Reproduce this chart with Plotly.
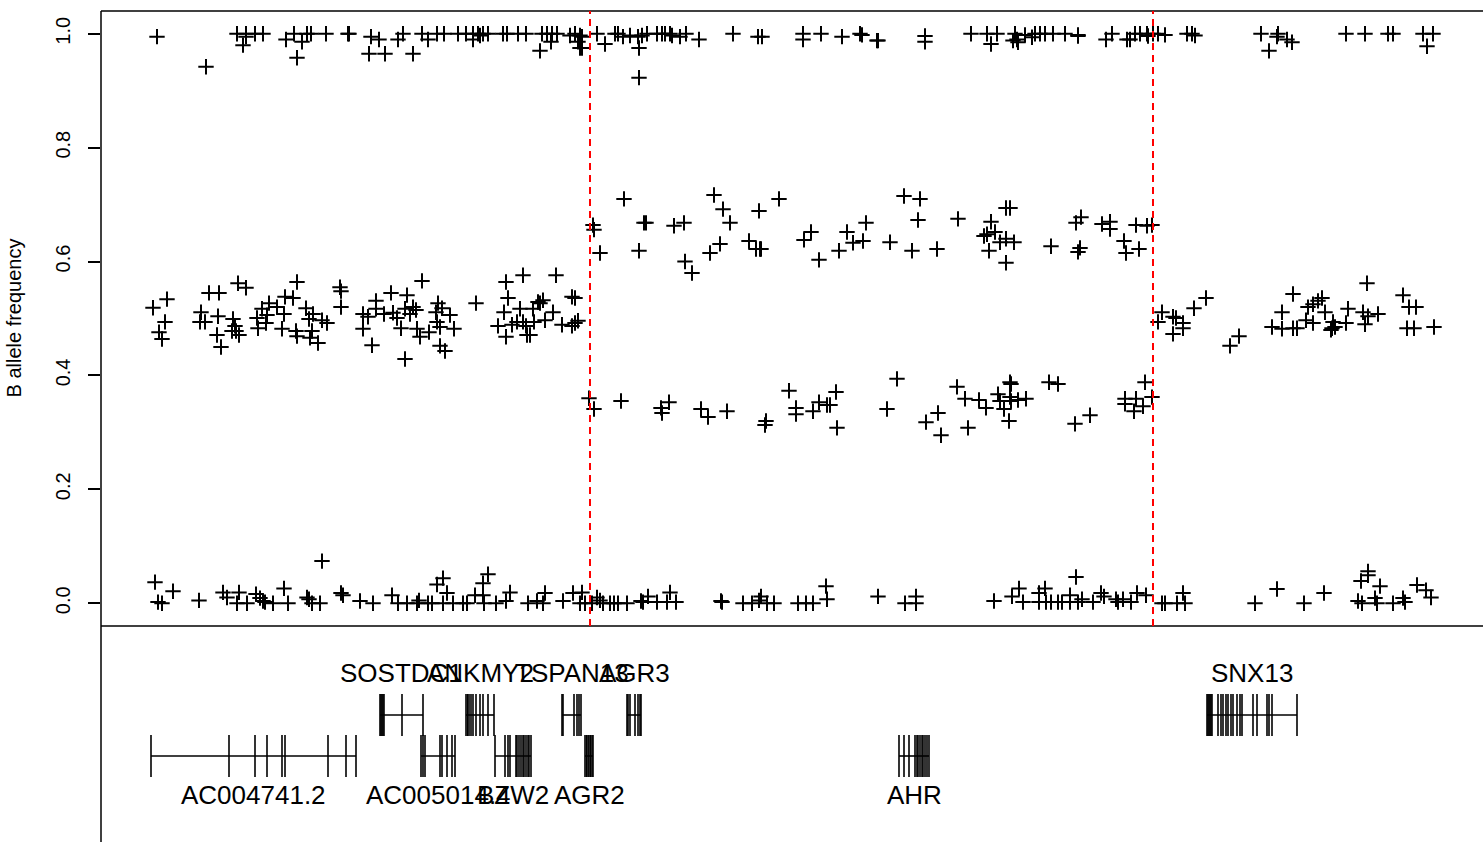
import plotly.graph_objects as go

# ---------------- data (positions in plot units along the region) ----------------
# B allele frequency, homozygous-B band (~1.0)
pos_top = [157, 206, 237, 246, 255, 263, 246, 243, 286, 294, 302, 297, 307, 311, 326, 348, 349,
           371, 379, 369, 385, 398, 403, 413, 422, 428, 437, 444, 458, 466, 473, 478, 483, 488,
           473, 480, 503, 507, 518, 526, 542, 547, 552, 557, 551, 540, 570, 575, 580, 578, 580, 597,
           582, 582, 605, 615, 618, 623, 630, 638, 642, 639, 639, 647, 657, 662, 665, 670, 672,
           680, 686, 699, 733, 758, 762, 803, 803, 821, 842, 860, 862, 877, 878, 925, 925, 971,
           987, 991, 997, 1015, 1017, 1018, 1013, 1025, 1032, 1035, 1040, 1045, 1053, 1065, 1078,
           1078, 1106, 1112, 1127, 1130, 1135, 1140, 1147, 1148, 1153, 1158, 1165, 1187, 1192,
           1195, 1261, 1278, 1277, 1269, 1287, 1292, 1346, 1365, 1388, 1393, 1423, 1433, 1427]
baf_top = [0.995, 0.942, 1, 1, 1, 1, 0.995, 0.98, 0.99, 1, 0.986, 0.958, 1, 1, 1, 1, 1,
           0.995, 0.99, 0.965, 0.965, 0.99, 1, 0.965, 1, 0.99, 1, 1, 1, 1, 1, 1, 1, 1,
           0.99, 0.997, 1, 1, 1, 1, 1, 1, 1, 1, 0.986, 0.97, 0.997, 1, 0.997, 0.986, 0.975, 1,
           0.995, 0.975, 0.982, 1, 1, 0.995, 0.997, 0.995, 0.997, 0.975, 0.923, 1, 1, 1, 1, 1, 0.997,
           0.995, 1, 0.99, 1, 0.995, 0.995, 1, 0.99, 1, 0.995, 1, 0.998, 0.988, 0.988, 0.996, 0.986, 1,
           1, 0.982, 1, 1, 0.99, 0.985, 0.988, 0.998, 0.994, 1, 1, 1, 1, 1, 0.998,
           0.996, 0.99, 1, 0.99, 0.99, 1, 1, 1, 0.996, 1, 1, 0.998, 1, 1,
           0.997, 1, 1, 0.995, 0.97, 0.99, 0.985, 1, 1, 1, 1, 1, 1, 0.978]

# heterozygous band (~0.5), left region
pos_het_left = [153, 167, 165, 159, 162, 209, 219, 238, 246, 201, 200, 205, 218, 217, 221, 233, 235,
                236, 239, 232, 297, 285, 293, 269, 277, 262, 267, 257, 266, 258, 284, 282, 306, 313,
                309, 322, 327, 296, 297, 312, 310, 318, 340, 341, 341, 363, 368, 363, 372, 376, 376,
                384, 391, 393, 397, 401, 405, 407, 413, 416, 405, 410, 422, 417, 420, 429, 438, 442,
                436, 437, 440, 450, 454, 440, 445, 476, 506, 523, 556, 508, 504, 520, 533, 553, 545,
                534, 538, 543, 540, 517, 523, 526, 512, 498, 506, 527, 530, 572, 575, 562, 572, 575, 578]
baf_het_left = [0.519, 0.534, 0.494, 0.476, 0.464, 0.545, 0.545, 0.562, 0.554, 0.511, 0.494, 0.494,
                0.504, 0.471, 0.45, 0.499, 0.487, 0.478, 0.471, 0.478, 0.564, 0.538, 0.536, 0.527,
                0.52, 0.517, 0.506, 0.501, 0.492, 0.483, 0.508, 0.482, 0.518, 0.508, 0.499, 0.497,
                0.492, 0.478, 0.469, 0.478, 0.466, 0.457, 0.555, 0.548, 0.52, 0.508, 0.503, 0.482,
                0.453, 0.531, 0.517, 0.508, 0.545, 0.51, 0.501, 0.483, 0.429, 0.541, 0.52, 0.515,
                0.517, 0.508, 0.566, 0.482, 0.468, 0.476, 0.527, 0.518, 0.511, 0.494, 0.485, 0.506,
                0.482, 0.452, 0.443, 0.527, 0.564, 0.576, 0.576, 0.536, 0.511, 0.517, 0.517, 0.511,
                0.497, 0.494, 0.529, 0.532, 0.527, 0.494, 0.494, 0.487, 0.489, 0.487, 0.468, 0.471,
                0.471, 0.538, 0.536, 0.489, 0.487, 0.492, 0.496]

# allelic imbalance region: upper band (~0.66)
pos_gain_hi = [593, 594, 600, 624, 639, 644, 646, 674, 684, 685, 692, 714, 723, 730, 710, 720, 749,
               756, 760, 761, 759, 779, 804, 811, 819, 839, 847, 853, 863, 866, 890, 904, 920, 918,
               912, 937, 958, 991, 984, 987, 995, 1000, 1006, 1014, 989, 1006, 1006, 1010, 1051,
               1076, 1081, 1078, 1080, 1102, 1110, 1110, 1124, 1126, 1139, 1136, 1147, 1152]
baf_gain_hi = [0.664, 0.656, 0.615, 0.71, 0.619, 0.668, 0.668, 0.663, 0.668, 0.6, 0.58, 0.717,
               0.692, 0.668, 0.615, 0.631, 0.636, 0.622, 0.622, 0.622, 0.689, 0.71, 0.638, 0.652,
               0.603, 0.619, 0.652, 0.633, 0.636, 0.668, 0.634, 0.715, 0.71, 0.673, 0.619, 0.622,
               0.675, 0.67, 0.645, 0.648, 0.652, 0.634, 0.64, 0.634, 0.619, 0.598, 0.694, 0.694,
               0.627, 0.668, 0.678, 0.617, 0.624, 0.666, 0.67, 0.657, 0.636, 0.615, 0.622, 0.664,
               0.663, 0.664]

# allelic imbalance region: lower band (~0.34)
pos_gain_lo = [589, 594, 621, 661, 662, 669, 701, 708, 727, 766, 765, 789, 796, 796, 813, 819, 827,
               830, 836, 837, 887, 897, 926, 938, 941, 957, 968, 965, 979, 986, 998, 1000, 1010,
               1011, 1010, 1004, 1009, 1011, 1018, 1026, 1049, 1058, 1075, 1090, 1125, 1136, 1125,
               1134, 1143, 1145, 1152]
baf_gain_lo = [0.36, 0.341, 0.355, 0.343, 0.334, 0.353, 0.341, 0.327, 0.337, 0.32, 0.313, 0.373,
               0.343, 0.332, 0.337, 0.353, 0.348, 0.348, 0.371, 0.308, 0.341, 0.394, 0.318, 0.334,
               0.295, 0.38, 0.308, 0.359, 0.357, 0.343, 0.367, 0.355, 0.388, 0.385, 0.362, 0.341,
               0.32, 0.355, 0.357, 0.359, 0.388, 0.385, 0.315, 0.33, 0.359, 0.359, 0.35, 0.337,
               0.346, 0.388, 0.362]

# heterozygous band (~0.5), right region
pos_het_right = [1162, 1158, 1173, 1176, 1183, 1183, 1173, 1194, 1206, 1230, 1239, 1272, 1282, 1282,
                 1293, 1293, 1297, 1306, 1313, 1308, 1313, 1318, 1322, 1325, 1333, 1332, 1335, 1331,
                 1346, 1348, 1363, 1368, 1378, 1365, 1367, 1403, 1409, 1416, 1407, 1414, 1434]
baf_het_right = [0.511, 0.494, 0.503, 0.501, 0.492, 0.483, 0.473, 0.518, 0.536, 0.452, 0.469, 0.485,
                 0.482, 0.511, 0.543, 0.483, 0.483, 0.497, 0.492, 0.52, 0.525, 0.531, 0.536, 0.511,
                 0.494, 0.483, 0.485, 0.48, 0.492, 0.517, 0.511, 0.504, 0.508, 0.49, 0.562, 0.541,
                 0.52, 0.52, 0.483, 0.483, 0.485]

# homozygous-A band (~0.0)
pos_bottom = [155, 158, 162, 173, 199, 223, 227, 239, 237, 247, 256, 260, 263, 265, 273, 284, 288,
              307, 309, 312, 320, 322, 341, 343, 360, 373, 392, 398, 407, 417, 419, 428, 432, 437,
              443, 447, 443, 453, 463, 467, 475, 483, 488, 483, 484, 496, 506, 510, 528, 537, 543,
              545, 563, 573, 582, 580, 585, 592, 597, 600, 603, 610, 614, 618, 627, 641, 643, 648,
              657, 667, 670, 676, 721, 722, 743, 752, 759, 761, 767, 774, 798, 806, 813, 827, 826,
              878, 905, 916, 916, 994, 1012, 1019, 1023, 1039, 1039, 1045, 1046, 1051, 1058, 1062,
              1070, 1070, 1076, 1078, 1082, 1093, 1101, 1104, 1116, 1118, 1123, 1131, 1137, 1146,
              1162, 1165, 1177, 1183, 1185, 1255, 1277, 1304, 1324, 1368, 1368, 1361, 1358, 1362,
              1375, 1377, 1380, 1393, 1403, 1405, 1417, 1426, 1431]
baf_bottom = [0.037, 0.002, 0.0, 0.021, 0.005, 0.019, 0.01, 0.019, 0.0, 0.0, 0.016, 0.009, 0.004,
              0.002, 0.0, 0.026, 0.0, 0.01, 0.007, 0.0, 0.0, 0.074, 0.018, 0.014, 0.004, 0.0, 0.014,
              0.0, 0.0, 0.0, 0.005, 0.0, 0.0, 0.033, 0.044, 0.018, 0.0, 0.0, 0.0, 0.0, 0.014, 0.035,
              0.051, 0.014, 0.0, 0.0, 0.004, 0.019, 0.0, 0.004, 0.0, 0.018, 0.004, 0.018, 0.019,
              0.0, 0.0, 0.0, 0.01, 0.005, 0.0, 0.0, 0.0, 0.0, 0.0, 0.004, 0.002, 0.012, 0.002,
              0.002, 0.019, 0.002, 0.004, 0.002, 0.0, 0.0, 0.005, 0.012, 0.0, 0.0, 0.0, 0.0, 0.0,
              0.007, 0.03, 0.012, 0.0, 0.0, 0.012, 0.004, 0.012, 0.026, 0.002, 0.002, 0.018, 0.026,
              0.002, 0.002, 0.002, 0.002, 0.014, 0.002, 0.046, 0.002, 0.007, 0.002, 0.018, 0.012,
              0.007, 0.002, 0.007, 0.002, 0.018, 0.014, 0.0, 0.0, 0.0, 0.018, 0.0, 0.0, 0.025, 0.0,
              0.018, 0.056, 0.049, 0.039, 0.004, 0.0, 0.009, 0.0, 0.03, 0.0, 0.009, 0.002, 0.032,
              0.023, 0.01]

# segment breakpoints
breakpoints = [590, 1153]

# gene models
gene_names = ["AC004741.2", "SOSTDC1", "AC005014.4", "ANKMY2", "BZW2", "TSPAN13", "AGR2", "AGR3",
              "AHR", "SNX13"]
gene_row = [2, 1, 2, 1, 2, 1, 2, 1, 2, 1]
gene_exons = [
    [151, 229, 255, 267, 282, 285, 328, 346, 356],
    [380, 381, 382, 383, 384, 402, 423],
    [421, 423, 425, 440, 442, 447, 452, 455],
    [466, 467.5, 469, 471, 473, 476, 480, 483, 488, 494],
    [495, 505, 508, 510, 516, 517, 519, 521, 523, 524, 526, 528, 529, 531],
    [562, 563, 574, 577, 579, 581],
    [585, 586.5, 588, 589, 590.5, 592, 593],
    [627, 628, 630, 635, 638, 640, 641],
    [899, 904, 909, 915, 917, 918, 920, 922, 923, 925, 927, 929],
    [1207, 1208, 1209, 1210, 1211, 1212, 1218, 1221, 1223, 1226, 1228, 1231, 1233, 1237, 1240,
     1242, 1253, 1257, 1267, 1269, 1272, 1297],
]

y_ticks = [0.0, 0.2, 0.4, 0.6, 0.8, 1.0]
y_title = "B allele frequency"

# ---------------- figure ----------------
W, H = 1483, 842
L, T = 101, 11
SPLIT = 626  # pixel row separating the BAF panel from the gene panel
plot_h = H - T
split_frac = (H - SPLIT) / plot_h

FONT = "Liberation Sans, Arial, Helvetica, sans-serif"

fig = go.Figure()

marker = dict(symbol="cross-thin", size=11, line=dict(color="black", width=2), color="black")
for xs, ys in [(pos_top, baf_top), (pos_het_left, baf_het_left), (pos_gain_hi, baf_gain_hi),
               (pos_gain_lo, baf_gain_lo), (pos_het_right, baf_het_right), (pos_bottom, baf_bottom)]:
    fig.add_trace(go.Scatter(x=xs, y=ys, mode="markers", marker=marker, showlegend=False,
                             hoverinfo="x+y", xaxis="x", yaxis="y"))

# gene panel coordinates (y2 in pixels below the panel separator, negative downward)
row_center = {1: -(715 - SPLIT), 2: -(756 - SPLIT)}
row_label = {1: -(673 - SPLIT), 2: -(795 - SPLIT)}
half = 21

bb_x, bb_y, ex_x, ex_y = [], [], [], []
annotations = []
for name, row, exons in zip(gene_names, gene_row, gene_exons):
    yc = row_center[row]
    bb_x += [min(exons), max(exons), None]
    bb_y += [yc, yc, None]
    for e in exons:
        ex_x += [e, e, None]
        ex_y += [yc - half, yc + half, None]
    annotations.append(dict(x=(min(exons) + max(exons)) / 2, y=row_label[row], xref="x2", yref="y2",
                            text=name, showarrow=False, xanchor="center", yanchor="middle",
                            font=dict(family=FONT, size=26, color="black")))

fig.add_trace(go.Scatter(x=bb_x, y=bb_y, mode="lines", line=dict(color="black", width=1.6),
                         showlegend=False, hoverinfo="skip", xaxis="x2", yaxis="y2"))
fig.add_trace(go.Scatter(x=ex_x, y=ex_y, mode="lines", line=dict(color="black", width=1.6),
                         showlegend=False, hoverinfo="skip", xaxis="x2", yaxis="y2"))

annotations.append(dict(x=0, y=1 - ((318.5 - T) / plot_h), xref="paper", yref="paper",
                        xshift=-(L - 14), text=y_title, textangle=-90, showarrow=False,
                        xanchor="center", yanchor="middle",
                        font=dict(family=FONT, size=20, color="black")))

shapes = [
    dict(type="line", xref="paper", yref="paper", x0=0, x1=1, y0=1, y1=1,
         line=dict(color="black", width=1.5)),
    dict(type="line", xref="paper", yref="paper", x0=0, x1=0, y0=0, y1=1,
         line=dict(color="black", width=1.5)),
    dict(type="line", xref="paper", yref="paper", x0=0, x1=1, y0=split_frac, y1=split_frac,
         line=dict(color="black", width=1.5)),
]
for b in breakpoints:
    shapes.append(dict(type="line", xref="x", yref="y", x0=b, x1=b, y0=-0.04, y1=1.04,
                       line=dict(color="#FF0000", width=2, dash="7px,5px")))

xr = [L, W]
fig.update_layout(
    width=W, height=H,
    margin=dict(l=L, r=0, t=T, b=0),
    paper_bgcolor="white", plot_bgcolor="white",
    xaxis=dict(range=xr, visible=False, domain=[0, 1], anchor="y"),
    xaxis2=dict(range=xr, visible=False, domain=[0, 1], anchor="y2"),
    yaxis=dict(domain=[split_frac, 1], range=[-0.04, 1.04], tickvals=y_ticks,
               ticktext=[f"{v:.1f}" for v in y_ticks], ticks="outside", ticklen=12, tickwidth=1.5,
               tickcolor="black", tickangle=-90, showgrid=False, zeroline=False, showline=False,
               ticklabelstandoff=10,
               tickfont=dict(family=FONT, size=20, color="black"), anchor="x"),
    yaxis2=dict(domain=[0, split_frac], range=[-(H - SPLIT), 0], visible=False, anchor="x2"),
    shapes=shapes,
    annotations=annotations,
    font=dict(family=FONT, color="black"),
)

fig.write_html("out.html", config={"displayModeBar": False},
               post_script="document.body.style.margin='0';document.body.style.overflow='hidden';")
